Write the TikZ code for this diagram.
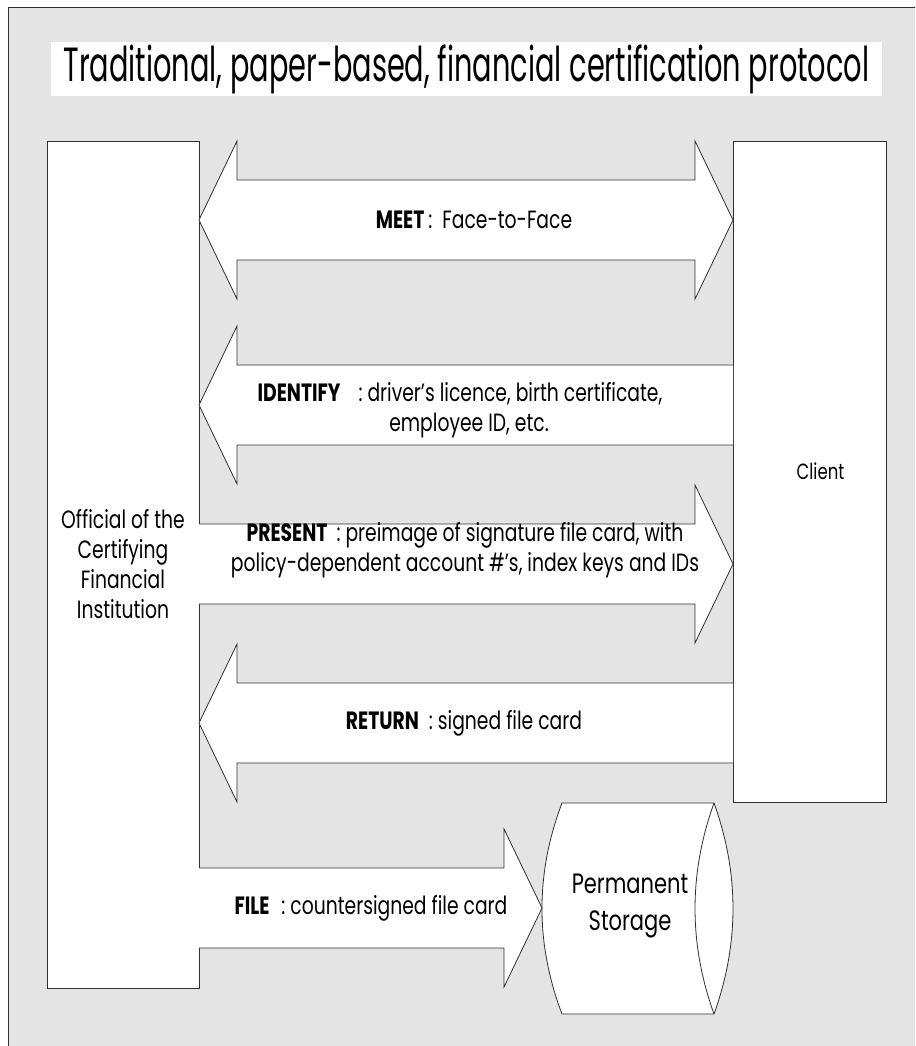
\documentclass[tikz,border=0pt]{standalone}
\usepackage{fontspec}
\setmainfont[FakeStretch=0.75]{Poppins}
\newfontfamily\titlefont[FakeStretch=0.6]{Poppins}
\usepackage{xcolor}
\usetikzlibrary{positioning,calc}
\definecolor{Panel}{HTML}{E4E4E4}
\definecolor{Ink}{HTML}{303030}

% block arrow from a tail point to a tip point (horizontal)
\newcommand{\blockarrow}[2]{%
  \draw[blk] let \p1=(#1), \p2=(#2), \p3=($(#2)!38pt!(#1)$) in
    (\x1,\y1+40pt) -- (\x3,\y1+40pt) -- (\x3,\y1+79pt) -- (\x2,\y1)
    -- (\x3,\y1-79pt) -- (\x3,\y1-40pt) -- (\x1,\y1-40pt);}
% two-headed block arrow, left tip to right tip
\newcommand{\dblarrow}[2]{%
  \draw[blk] let \p1=(#1), \p2=(#2) in
    (\x1,\y1) -- (\x1+38pt,\y1+79pt) -- (\x1+38pt,\y1+40pt) -- (\x2-38pt,\y1+40pt)
    -- (\x2-38pt,\y1+79pt) -- (\x2,\y1) -- (\x2-38pt,\y1-79pt) -- (\x2-38pt,\y1-40pt)
    -- (\x1+38pt,\y1-40pt) -- (\x1+38pt,\y1-79pt) -- cycle;}

\begin{document}
\begin{tikzpicture}[x=1pt,y=-1pt,font=\fontsize{25}{30}\selectfont]
  \tikzstyle{box}=[draw=Ink,fill=white,line width=0.8pt,outer sep=0pt,inner sep=0pt,align=center]
  \tikzstyle{blk}=[draw=Ink,fill=white,line width=0.8pt,line join=miter]
  \tikzstyle{lbl}=[align=center,inner sep=0pt]
  \useasboundingbox (0,0) rectangle (915,1046);
  \clip (0,0) rectangle (915,1046);
  \fill[white] (0,0) rectangle (915,1046);
  \draw[draw=Ink,fill=Panel,line width=0.8pt] (8,7) rectangle (930,1060);

  % heading
  \node[fill=white,minimum width=831,minimum height=54,inner sep=0pt] (title) at (466.5,69)
    {\titlefont\fontsize{48}{48}\selectfont Traditional, paper-based, financial certification protocol};

  % the two parties
  \node[box,minimum width=152,minimum height=847] (official) at (123,564.5)
    {Official of the\\Certifying\\Financial\\Institution};
  \node[box,minimum width=153,minimum height=661,font=\fontsize{22}{26}\selectfont] (client) at (809.5,471.5) {\hspace{22pt}Client};

  % storage drum
  \draw[blk] (562,803) -- (714,803) .. controls (739.3,873.3) and (739.3,943.7) .. (714,1014)
    -- (562,1014) .. controls (535.3,943.7) and (535.3,873.3) .. (562,803) -- cycle;
  \draw[blk,fill=none] (714,803) .. controls (688.7,873.3) and (688.7,943.7) .. (714,1014);
  \node[lbl,font=\fontsize{28}{37}\selectfont] (storage) at (630,906) {Permanent\\Storage};
  \coordinate (storw) at (542,908);

  % message levels
  \coordinate (ymeet) at (0,220);
  \coordinate (yid) at (0,405);
  \coordinate (ypres) at (0,564);
  \coordinate (yret) at (0,723);
  \coordinate (yfile) at (0,908);

  \dblarrow{official.east |- ymeet}{client.west |- ymeet}
  \blockarrow{client.west |- yid}{official.east |- yid}
  \blockarrow{official.east |- ypres}{client.west |- ypres}
  \blockarrow{client.west |- yret}{official.east |- yret}
  \blockarrow{official.east |- yfile}{storw}

  \node[lbl] (meetlbl) at (474,220) {\textbf{MEET}\hspace{4pt}:\hspace{10pt}Face-to-Face};
  \node[lbl] (idlbl) at (460,410) {\textbf{IDENTIFY}\hspace{18pt}: driver's licence, birth certificate,\\\hspace{18pt}employee ID, etc.};
  \node[lbl] (preslbl) at (465,550) {\textbf{PRESENT}\hspace{9pt}: preimage of signature file card, with\\policy-dependent account \#'s, index keys and IDs};
  \node[lbl] (retlbl) at (464,723) {\textbf{RETURN}\hspace{10pt}: signed file card};
  \node[lbl] (filelbl) at (371,908) {\textbf{FILE}\hspace{12pt}: countersigned file card};
\end{tikzpicture}
\end{document}
